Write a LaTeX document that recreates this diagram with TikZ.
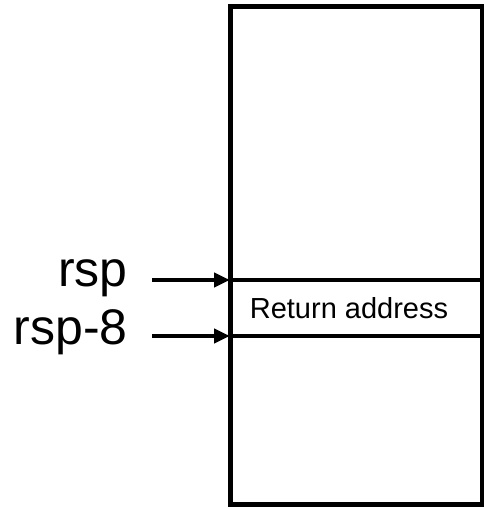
\documentclass[tikz,border=0pt]{standalone}
\usepackage{fontspec}
\setmainfont{Liberation Sans}
\usetikzlibrary{arrows.meta}

\tikzset{
  frame/.style={draw, line width=5pt, minimum width=252pt, minimum height=498pt, inner sep=0pt, outer sep=0pt},
  slot/.style={draw, line width=4.5pt, minimum width=252pt, minimum height=56pt, inner sep=0pt, outer sep=0pt},
  reg/.style={anchor=base east, inner sep=0pt, font=\fontsize{50}{60}\selectfont},
  ptr/.style={line width=4.5pt, -{Triangle[length=16pt,width=14pt]}}
}

\begin{document}
\begin{tikzpicture}[x=1pt,y=1pt]
\useasboundingbox (0,0) rectangle (484,509);

\node[frame] (stack) at (356,253) {};
\node[slot] (ret) at (356,201) {};
\node[inner sep=0pt, font=\fontsize{29}{34}\selectfont] (retlabel) at (349,201) {Return address};

\node[reg] (rsp) at (128,222) {rsp};
\node[reg] (rspm) at (128,164) {rsp-8};

\coordinate (rsp tail) at (152,229);
\coordinate (rspm tail) at (152,173);
\draw[ptr] (rsp tail) -- (ret.north west);
\draw[ptr] (rspm tail) -- (ret.south west);

\end{tikzpicture}
\end{document}
